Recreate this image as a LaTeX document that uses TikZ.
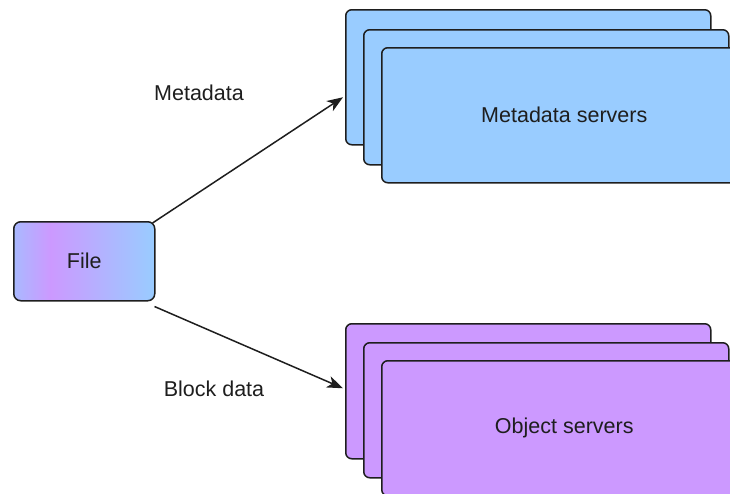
\documentclass[tikz,border=0pt]{standalone}
\usepackage{fontspec}
\setmainfont{Liberation Sans}
\usetikzlibrary{arrows.meta}

\definecolor{mdblue}{HTML}{99CCFF}
\definecolor{objpurple}{HTML}{CC99FF}
\definecolor{fileleft}{HTML}{A9B9FF}
\definecolor{edge}{HTML}{1E1E1E}

% left-to-right fill of the File box: periwinkle, violet, light blue
\pgfdeclarehorizontalshading{filegrad}{100bp}{%
  color(0bp)=(fileleft); color(25bp)=(fileleft);
  color(38bp)=(objpurple); color(75bp)=(mdblue); color(100bp)=(mdblue)}

\tikzset{
  server/.style={draw=edge, line width=1.5pt, rounded corners=6pt,
    minimum width=365pt, minimum height=135pt, anchor=north west,
    inner sep=0pt},
  mdserver/.style={server, fill=mdblue},
  objserver/.style={server, fill=objpurple},
  filebox/.style={draw=edge, line width=1.5pt, rounded corners=7pt,
    shading=filegrad, minimum width=141pt, minimum height=79pt,
    anchor=north west, inner sep=0pt},
  flow/.style={draw=edge, line width=1.5pt,
    -{Stealth[length=16pt,width=12pt,inset=4.5pt]}},
  lbl/.style={font=\fontsize{21.5}{25}\selectfont, text=edge}
}

\begin{document}
\begin{tikzpicture}[x=1pt,y=-1pt]
  \useasboundingbox (0,0) rectangle (730,493);
  \clip (0,0) rectangle (730,493);

  % metadata server stack, back to front
  \node[mdserver] (mdback) at (345,9) {};
  \node[mdserver] (mdmid) at (363,29) {};
  \node[mdserver, lbl] (mdfront) at (381,47) {Metadata servers};

  % object server stack, back to front
  \node[objserver] (objback) at (345,323) {};
  \node[objserver] (objmid) at (363,342) {};
  \node[objserver, lbl] (objfront) at (381,360) {Object servers};

  % the file being stored
  \node[filebox, lbl] (file) at (13,221) {File};

  % data paths
  \draw[flow] ([shift={(-3pt,-2pt)}]file.north east) -- ([shift={(-2pt,-20pt)}]mdback.west);
  \draw[flow] ([shift={(-1pt,-5pt)}]file.south east) -- ([shift={(-2pt,3pt)}]objback.west);

  \node[lbl] (mdlabel) at (199,93) {Metadata};
  \node[lbl] (blocklabel) at (214,389) {Block data};
\end{tikzpicture}
\end{document}
